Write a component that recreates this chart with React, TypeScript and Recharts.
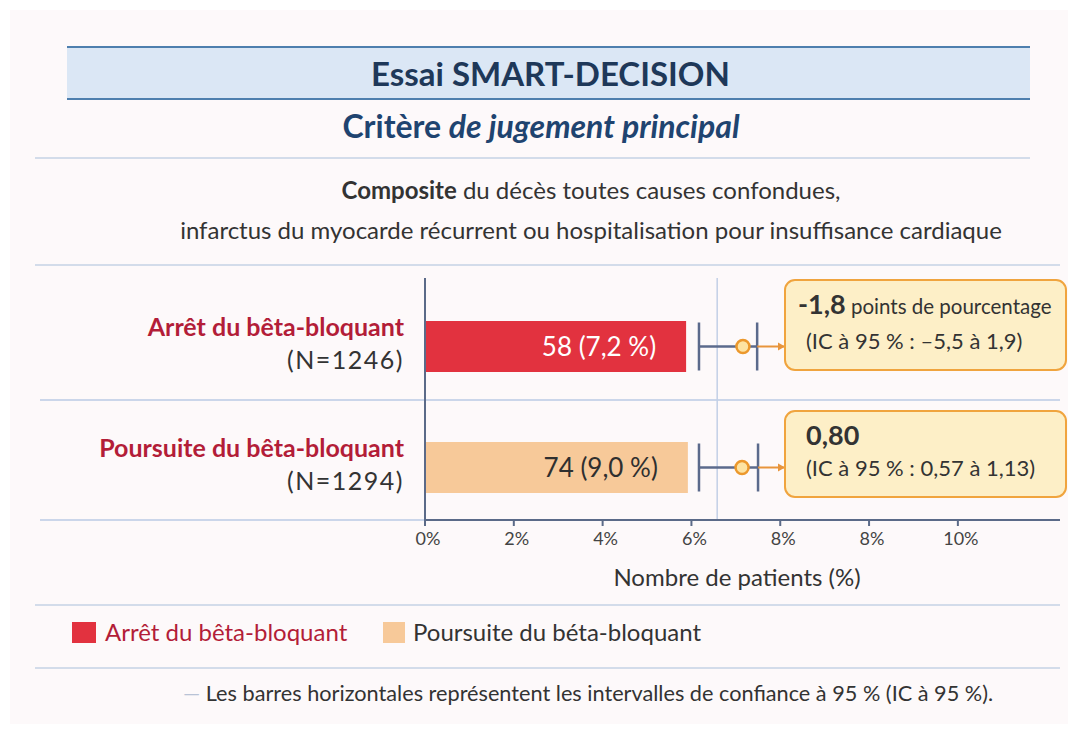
import React from 'react';
import { ComposedChart, Bar, Cell, XAxis, YAxis, Scatter, ErrorBar, ReferenceLine, LabelList } from 'recharts';

const categories = ['arret', 'poursuite'];
const groupNames = ['Arrêt du bêta-bloquant', 'Poursuite du bêta-bloquant'];
const groupN = ['(N=1246)', '(N=1294)'];
const barValues = [5.88, 5.92];
const barLabels = ['58 (7,2 %)', '74 (9,0 %)'];
const barColors = ['#e2323f', '#f7c999'];
const barLabelColors = ['#ffffff', '#2f2f2f'];
const pointEstimates = [7.16, 7.14];
const ciLow = [6.17, 6.17];
const ciHigh = [7.48, 7.5];
const xTicks = [0, 2, 4, 6, 8, 10, 12];
const xTickLabels = ['0%', '2%', '4%', '6%', '8%', '8%', '10%'];
const referenceX = 6.58;

const data = categories.map((c, i) => ({
  name: c,
  val: barValues[i],
  est: pointEstimates[i],
  high: ciHigh[i],
  ci: [pointEstimates[i] - ciLow[i], ciHigh[i] - pointEstimates[i]],
}));

const FONT = 'Lato, "Open Sans", sans-serif';
const BOX_LEFT = 784;

const YTick = (props: any) => {
  const { x, y, payload } = props;
  const i = categories.indexOf(payload.value);
  return (
    <g>
      <text x={x - 13} y={y - 11} textAnchor="end" fill="#b31d38" fontSize={25} fontWeight={700} fontFamily={FONT}>
        {groupNames[i]}
      </text>
      <text x={x - 13} y={y + 22} textAnchor="end" fill="#333" fontSize={25} fontFamily={FONT} letterSpacing={1.5}>
        {groupN[i]}
      </text>
    </g>
  );
};

const BarText = (props: any) => {
  const { x, y, width, height, index } = props;
  return (
    <text x={x + width - 30} y={y + height / 2 + 9} textAnchor="end" fill={barLabelColors[index]} fontSize={26} fontFamily={FONT}>
      {barLabels[index]}
    </text>
  );
};

const Connector = (props: any) => {
  const { cx, cy } = props;
  return (
    <g>
      <line x1={cx} y1={cy} x2={BOX_LEFT} y2={cy} stroke="#e8953c" strokeWidth={2} />
      <polygon points={`${BOX_LEFT - 6},${cy - 4} ${BOX_LEFT + 1},${cy} ${BOX_LEFT - 6},${cy + 4}`} fill="#e8953c" />
    </g>
  );
};

const EstimateDot = (props: any) => {
  const { cx, cy } = props;
  return <circle cx={cx} cy={cy} r={6.5} fill="#fde3a2" stroke="#ec982c" strokeWidth={2.5} />;
};

const XTick = (props: any) => {
  const { x, y, index } = props;
  return (
    <text x={x + 3} y={y + 17} textAnchor="middle" fill="#444" fontSize={18} fontFamily={FONT}>
      {xTickLabels[index]}
    </text>
  );
};

const hLine = (top: number, left: number, right: number, color = '#d3dcea') => (
  <div style={{ position: 'absolute', top, left, width: right - left, height: 2, background: color }} />
);

export default function App() {
  return (
    <div style={{ position: 'fixed', left: 0, top: 0, width: 1078, height: 734, background: '#ffffff', fontFamily: FONT, overflow: 'hidden' }}>
      <div style={{ position: 'absolute', left: 10, top: 10, width: 1058, height: 714, background: '#fdf9fa' }} />
      {/* title band */}
      <div style={{ position: 'absolute', left: 67, top: 46, width: 963, height: 50, background: '#dbe7f5', borderTop: '2px solid #4e7fae', borderBottom: '2px solid #4e7fae', display: 'flex', alignItems: 'center', justifyContent: 'center' }}>
        <span style={{ fontSize: 33, fontWeight: 700, color: '#1e3859', marginLeft: 4 }}>Essai SMART-DECISION</span>
      </div>
      <div style={{ position: 'absolute', left: 0, top: 106, width: 1078, textAlign: 'center', fontSize: 32, fontWeight: 700, color: '#1f4470', lineHeight: '40px' }}>
        <span style={{ position: 'relative', left: 2 }}>Critère <i>de jugement principal</i></span>
      </div>
      {hLine(157, 35, 1030)}
      <div style={{ position: 'absolute', left: 0, top: 170, width: 1182, textAlign: 'center', fontSize: 24, color: '#333', lineHeight: '40px' }}>
        <div><b>Composite</b> du décès toutes causes confondues,</div>
        <div>infarctus du myocarde récurrent ou hospitalisation pour insuffisance cardiaque</div>
      </div>
      {hLine(264, 35, 1060)}
      {hLine(399, 40, 1060, '#cbd6ea')}
      {hLine(519, 40, 425, '#cbd6ea')}
      {hLine(604, 35, 1060)}
      {hLine(667, 35, 1060)}

      <div style={{ position: 'absolute', left: 0, top: 0 }}>
        <ComposedChart
          layout="vertical"
          width={1078}
          height={734}
          data={data}
          margin={{ top: 278, right: 18, bottom: 154, left: 0 }}
        >
          <XAxis
            type="number"
            domain={[0, 14.3]}
            ticks={xTicks}
            allowDataOverflow
            tick={<XTick />}
            tickLine={{ stroke: '#5b6a88', strokeWidth: 2 }}
            tickSize={6}
            axisLine={{ stroke: '#5b6a88', strokeWidth: 2 }}
            height={60}
            interval={0}
          />
          <YAxis
            type="category"
            dataKey="name"
            width={425}
            tick={<YTick />}
            tickLine={false}
            axisLine={{ stroke: '#5b6a88', strokeWidth: 2 }}
            padding={{ top: 8, bottom: -8 }}
          />
          <ReferenceLine x={referenceX} stroke="#c3cfe6" strokeWidth={1.5} />
          <Bar dataKey="val" barSize={51} isAnimationActive={false}>
            {data.map((d, i) => (
              <Cell key={d.name} fill={barColors[i]} />
            ))}
            <LabelList dataKey="val" content={<BarText />} />
          </Bar>
          <Scatter dataKey="high" shape={<Connector />} isAnimationActive={false} />
          <Scatter dataKey="est" shape={<EstimateDot />} isAnimationActive={false}>
            <ErrorBar dataKey="ci" direction="x" width={24} stroke="#5b6a8c" strokeWidth={2.5} />
          </Scatter>
        </ComposedChart>
      </div>

      {/* annotation boxes */}
      <div style={{ position: 'absolute', left: BOX_LEFT, top: 279, width: 283, height: 92, background: '#fdefc7', border: '2px solid #f0a43e', borderRadius: 11, boxSizing: 'border-box', color: '#333' }}>
        <div style={{ position: 'absolute', left: 12, top: 6, whiteSpace: 'nowrap' }}>
          <span style={{ fontSize: 27, fontWeight: 700 }}>-1,8</span>
          <span style={{ fontSize: 20.5 }}> points de pourcentage</span>
        </div>
        <div style={{ position: 'absolute', left: 20, top: 46, fontSize: 22, whiteSpace: 'nowrap' }}>(IC à 95 % : –5,5 à 1,9)</div>
      </div>
      <div style={{ position: 'absolute', left: BOX_LEFT, top: 410, width: 283, height: 88, background: '#fdefc7', border: '2px solid #f0a43e', borderRadius: 11, boxSizing: 'border-box', color: '#333' }}>
        <div style={{ position: 'absolute', left: 20, top: 6, fontSize: 27, fontWeight: 700 }}>0,80</div>
        <div style={{ position: 'absolute', left: 20, top: 42, fontSize: 22, whiteSpace: 'nowrap' }}>(IC à 95 % : 0,57 à 1,13)</div>
      </div>

      <div style={{ position: 'absolute', left: 537, top: 562, width: 400, textAlign: 'center', fontSize: 24, color: '#333' }}>Nombre de patients (%)</div>

      {/* legend */}
      <div style={{ position: 'absolute', left: 72, top: 622, width: 24, height: 21, background: '#e2323f' }} />
      <div style={{ position: 'absolute', left: 105, top: 617, fontSize: 24, color: '#b31d38' }}>Arrêt du bêta-bloquant</div>
      <div style={{ position: 'absolute', left: 383, top: 622, width: 22, height: 21, background: '#f7c999' }} />
      <div style={{ position: 'absolute', left: 413, top: 617, fontSize: 24, color: '#333' }}>Poursuite du béta-bloquant</div>

      <div style={{ position: 'absolute', left: 183, top: 680, fontSize: 21.7, color: '#333', whiteSpace: 'nowrap' }}>
        <span style={{ color: '#b9c3d6' }}>—</span> Les barres horizontales représentent les intervalles de confiance à 95 % (IC à 95 %).
      </div>
    </div>
  );
}
